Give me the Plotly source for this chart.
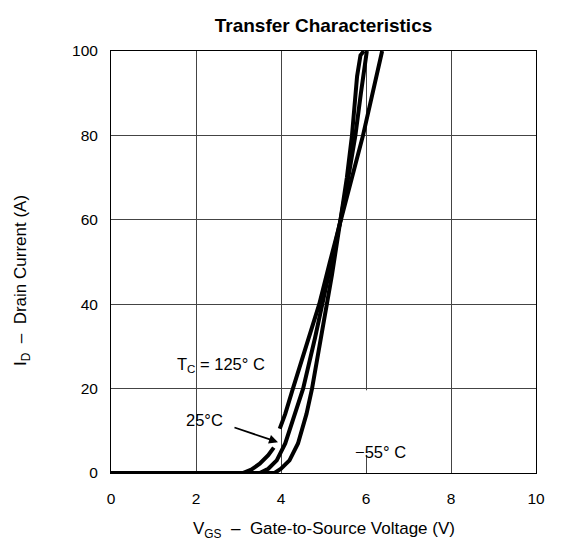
import plotly.graph_objects as go

# 125 °C curve (gap where the 25 °C arrow points)
v_125 = [0, 3.1, 3.3, 3.5, 3.7, 3.83, None, 3.97, 4.1, 4.28, 4.6, 4.9, 5.15, 5.4, 5.67, 5.93, 6.16, 6.38]
i_125 = [0, 0, 0.8, 2.2, 4.2, 6.0, None, 10.5, 14, 20, 30, 40, 50, 60, 70, 80, 90, 100]

# 25 °C curve
v_25 = [0, 3.5, 3.7, 3.9, 4.1, 4.3, 4.52, 4.8, 5.1, 5.4, 5.6, 5.75, 5.88, 6.02]
i_25 = [0, 0, 1, 3, 7, 13, 20, 32, 46, 60, 71, 80, 90, 100]

# -55 °C curve
v_m55 = [0, 3.85, 4.0, 4.2, 4.4, 4.6, 4.73, 5.0, 5.2, 5.4, 5.55, 5.67, 5.79, 5.87, 5.95]
i_m55 = [0, 0, 1, 3, 7, 14, 20, 35, 47, 60, 70, 80, 94, 99, 100]

x_ticks = [0, 2, 4, 6, 8, 10]
y_ticks = [0, 20, 40, 60, 80, 100]

FONT = "Liberation Sans, Arial, sans-serif"
W, H = 545, 535
ML, MR, MT, MB = 103, 17, 43, 70
PH = H - MT - MB

fig = go.Figure()
for v, i in [(v_125, i_125), (v_25, i_25), (v_m55, i_m55)]:
    fig.add_trace(go.Scatter(x=v, y=i, mode="lines",
                             line=dict(color="black", width=4),
                             connectgaps=False, showlegend=False,
                             hoverinfo="skip"))

# hide the x=6 grid line behind the -55°C label region
fig.add_shape(type="rect", x0=5.93, x1=6.07, y0=4.3, y1=19.6,
              fillcolor="white", line=dict(width=0), layer="between")

ann_font = dict(family=FONT, size=16.5, color="black")
fig.add_annotation(x=2.59, y=25.6, text="T<sub>C</sub> = 125° C", showarrow=False, font=ann_font)
fig.add_annotation(x=2.19, y=12.6, text="25°C", showarrow=False, font=ann_font)
fig.add_annotation(x=3.93, y=7.3, ax=2.87, ay=10.9, axref="x", ayref="y",
                   xref="x", yref="y", text="", showarrow=True,
                   arrowhead=2, arrowsize=1, arrowwidth=1.8, arrowcolor="black")
fig.add_annotation(x=6.35, y=5.0, text="−55° C", showarrow=False, font=ann_font)

# axis titles
fig.add_annotation(xref="paper", yref="paper", x=0.5, y=0, yanchor="middle",
                   yshift=-57, showarrow=False,
                   text="V<sub>GS</sub>  –  Gate-to-Source Voltage (V)",
                   font=dict(family=FONT, size=17, color="black"))
fig.add_annotation(xref="paper", yref="paper", x=0, xanchor="center",
                   xshift=-(ML - 14), y=(H - MB - 273) / PH, yanchor="middle",
                   textangle=-90, showarrow=False,
                   text="I<sub>D</sub>  –  Drain Current (A)",
                   font=dict(family=FONT, size=17, color="black"))

fig.update_layout(
    width=W, height=H,
    margin=dict(l=ML, r=MR, t=MT, b=MB, autoexpand=False),
    paper_bgcolor="white", plot_bgcolor="white",
    title=dict(text="<b>Transfer Characteristics</b>", xref="paper", x=0.5, xanchor="center",
               yref="container", y=1 - 17 / H, yanchor="middle",
               font=dict(family=FONT, size=19, color="black")),
    font=dict(family=FONT, size=15.5, color="black"),
)
fig.update_xaxes(range=[0, 10], tickvals=x_ticks, ticktext=[str(t) for t in x_ticks],
                 showgrid=True, gridcolor="#444", gridwidth=1,
                 showline=True, linecolor="black", linewidth=1, mirror=True,
                 zeroline=False, ticks="", ticklabelstandoff=11, automargin=False,
                 tickfont=dict(family=FONT, size=15.5))
fig.update_yaxes(range=[0, 100], tickvals=y_ticks, ticktext=[str(t) for t in y_ticks],
                 showgrid=True, gridcolor="#444", gridwidth=1,
                 showline=True, linecolor="black", linewidth=1, mirror=True,
                 zeroline=False, ticks="", ticklabelstandoff=9, automargin=False,
                 tickfont=dict(family=FONT, size=15.5))

fig.write_html("out.html")
